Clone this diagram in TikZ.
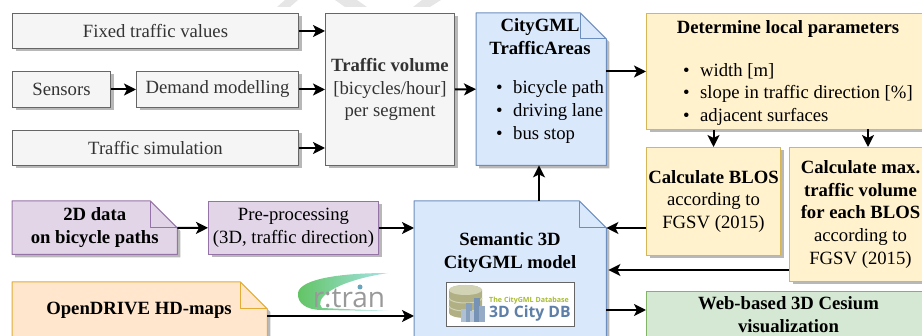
\documentclass[tikz,border=0pt]{standalone}
\usepackage{fontspec}
\setmainfont{Liberation Serif}
\newfontfamily\logofont{Open Sans}
\usepackage{tikz}
\usetikzlibrary{positioning,calc,backgrounds,shadows,arrows.meta}
\definecolor{grayfill}{HTML}{F5F5F5}
\definecolor{graydraw}{HTML}{666666}
\definecolor{graytext}{HTML}{333333}
\definecolor{bluefill}{HTML}{DAE8FC}
\definecolor{bluedraw}{HTML}{6C8EBF}
\definecolor{yellowfill}{HTML}{FFF2CC}
\definecolor{yellowdraw}{HTML}{D6B656}
\definecolor{purplefill}{HTML}{E1D5E7}
\definecolor{purpledraw}{HTML}{9673A6}
\definecolor{orangefill}{HTML}{FFE6CC}
\definecolor{orangedraw}{HTML}{E3AC35}
\definecolor{greenfill}{HTML}{D5E8D4}
\definecolor{greendraw}{HTML}{82B366}
\definecolor{marksgray}{HTML}{E6E6E6}
\definecolor{dbtan}{HTML}{B0B084}
\definecolor{dbtop}{HTML}{D2D3B4}
\definecolor{dbblue}{HTML}{5E80A8}
\definecolor{dbolive}{HTML}{A9BC2C}
\definecolor{logogreen}{HTML}{62C464}
\definecolor{logocyan}{HTML}{A6E4E8}
\tikzset{
    boxshadow/.style = {drop shadow={shadow xshift=3pt,shadow yshift=-3pt,fill=black,opacity=0.28}},
    box/.style = {rectangle,anchor=north west,align=center,inner sep=0,line width=1pt,boxshadow,
        font=\fontsize{18.7}{22.8}\selectfont},
    graybox/.style = {box,draw=graydraw,fill=grayfill,text=graytext},
    yellowbox/.style = {box,draw=yellowdraw,fill=yellowfill},
    greenbox/.style = {box,draw=greendraw,fill=greenfill},
    purplebox/.style = {box,draw=purpledraw,fill=purplefill},
    notearea/.style = {rectangle,anchor=north west,align=center,inner sep=0,
        font=\fontsize{18.7}{22.8}\selectfont},
    label/.style = {inner sep=0,align=center,font=\fontsize{18.7}{22.8}\selectfont},
    listlabel/.style = {label,align=left,anchor=west},
    conn/.style = {line width=2pt,-{Stealth[inset=3pt,length=12pt,width=12pt]}},
    flap/.style = {line width=1pt,line join=round}
}
\newcommand{\foldnote}[4]{%
    \begin{scope}[on background layer]
        \path[flap,fill=#3,draw=#4,boxshadow] (#1.north west) -- ($(#1.north east)+(-#2,0)$) -- ($(#1.north east)+(0,#2)$)
            -- (#1.south east) -- (#1.south west) -- cycle;
        \draw[flap,#4] ($(#1.north east)+(-#2,0)$) -- ($(#1.north east)+(-#2,#2)$) -- ($(#1.north east)+(0,#2)$);
    \end{scope}}
\newcommand{\bulletrow}[1]{\makebox[17pt][l]{\textbullet}#1}
\begin{document}
\begin{tikzpicture}[x=1pt,y=-1pt]
    \path[use as bounding box,clip] (0,0) rectangle (922,336);
    % marks at the top edge
    \foreach \xa/\xb/\xc/\xd in {285/298/290/277,335/357/367/345,422/441/430/413} {
        \fill[marksgray] (\xa,0) -- (\xb,0) -- (\xc,7) -- (\xd,7) -- cycle;
    }
    % sources of the traffic volume
    \node[graybox,minimum width=286pt,minimum height=35pt] (fixed) at (12,13) {Fixed traffic values};
    \node[graybox,minimum width=98pt,minimum height=36pt] (sensors) at (12,71) {Sensors};
    \node[graybox,minimum width=162pt,minimum height=36pt] (demand) at (136,71) {Demand modelling};
    \node[graybox,minimum width=286pt,minimum height=35pt] (sim) at (12,130) {Traffic simulation};
    \node[graybox,minimum width=129pt,minimum height=152pt] (volume) at (325,13) {\textbf{Traffic volume}\\{[bicycles/hour]}\\per segment};

    % traffic areas
    \node[notearea,minimum width=130pt,minimum height=152pt] (areas) at (476,13) {};
    \foldnote{areas}{26}{bluefill}{bluedraw}
    \node[label] (areastitle) at (540,37) {\textbf{CityGML}\\\textbf{TrafficAreas}};
    \node[listlabel] (areaslist) at (496,112) {\bulletrow{bicycle path}\\\bulletrow{driving lane}\\\bulletrow{bus stop}};

    % local parameters
    \node[yellowbox,minimum width=284pt,minimum height=116pt] (params) at (646,13) {};
    \node[label] (paramstitle) at (788,29) {\textbf{Determine local parameters}};
    \node[listlabel] (paramslist) at (683,94.5) {\bulletrow{width [m]}\\\bulletrow{slope in traffic direction [\%]}\\\bulletrow{adjacent surfaces}};
    \node[yellowbox,minimum width=134pt,minimum height=108pt] (blos) at (646,147) {\textbf{Calculate BLOS}\\according to\\FGSV (2015)};
    \node[yellowbox,minimum width=142pt,minimum height=134pt] (maxvol) at (789,147) {\textbf{Calculate max.}\\\textbf{traffic volume}\\\textbf{for each BLOS}\\according to\\FGSV (2015)};

    % inputs of the model
    \node[notearea,minimum width=165pt,minimum height=53pt] (data2d) at (12,201) {\textbf{2D data}\\\textbf{on bicycle paths}};
    \foldnote{data2d}{27}{purplefill}{purpledraw}
    \node[purplebox,minimum width=170pt,minimum height=53pt] (prep) at (208,201) {Pre-processing\\(3D, traffic direction)};
    \node[notearea,minimum width=255pt,minimum height=70pt] (odrive) at (12,282) {};
    \foldnote{odrive}{27}{orangefill}{orangedraw}
    \node[label] (odrivetext) at (139,310) {\textbf{OpenDRIVE HD-maps}};

    % r:tran logo
    \shade[left color=logogreen,right color=logocyan]
        (388,273) .. controls (340,273) and (300,279) .. (298,293) .. controls (297,303) and (306,310) .. (322,310)
        -- (388,311) -- (322,308) .. controls (314,300) and (330,282) .. (388,273) -- cycle;
    \node[inner sep=0,text=gray!80,font=\logofont\fontsize{28}{28}\selectfont] (rtran) at (349,298) {r:tran};
    \fill[cyan!45!gray] (360,287) circle (2.5);

    % model
    \node[notearea,minimum width=192pt,minimum height=150pt] (semantic) at (414,201) {};
    \foldnote{semantic}{27}{bluefill}{bluedraw}
    \node[label] (semantictext) at (510,252.5) {\textbf{Semantic 3D}\\\textbf{CityGML model}};

    % 3D City DB logo
    \node[rectangle,anchor=north west,draw=graydraw,line width=1pt,fill=white,minimum width=128pt,minimum height=44pt,inner sep=0] (dblogo) at (446,282) {};
    \fill[dbtan] (449,290) -- (449,313) arc[start angle=180,end angle=0,x radius=16.5,y radius=5] -- (482,290) arc[start angle=0,end angle=-180,x radius=16.5,y radius=5] -- cycle;
    \fill[dbtop] (465.5,290) ellipse[x radius=16.5,y radius=5];
    \foreach \ya in {298,306} {
        \draw[dbtop,line width=1pt] (449,\ya) arc[start angle=180,end angle=0,x radius=16.5,y radius=5];
    }
    \foreach \xa/\ya/\ca in {461/309/50,466/303/75,470/311/45,474/298/85,479/306/65} {
        \fill[dbblue!\ca!white] (\xa,\ya) rectangle ++(5.5,322-\ya);
    }
    \node[inner sep=0,anchor=west,text=dbolive,font=\logofont\bfseries\fontsize{7.1}{8}\selectfont] (dbtitle) at (489,300.5) {The CityGML Database};
    \node[inner sep=0,anchor=west,text=dbblue,font=\logofont\bfseries\fontsize{15.7}{16}\selectfont] (dbname) at (489,313) {3D City DB};

    \node[greenbox,minimum width=284pt,minimum height=46pt] (web) at (646,291) {\textbf{Web-based 3D Cesium}\\\textbf{visualization}};

    % ports that sit off the middle of a box
    \coordinate (odriveout) at (267,316);
    \coordinate (blosout) at (646,228);
    \coordinate (maxout) at (789,270);
    \coordinate (webin) at (646,310);
    \coordinate (semanticout) at (539,201);
    \coordinate (maxin) at (868,129);

    \draw[conn] (fixed.east) -- (fixed.east -| volume.west);
    \draw[conn] (sensors) -- (demand);
    \draw[conn] (demand.east) -- (demand.east -| volume.west);
    \draw[conn] (sim.east) -- (sim.east -| volume.west);
    \draw[conn] (volume.east) -- (areas.west);
    \draw[conn] (params.west -| areas.east) -- (params.west);
    \draw[conn] (blos.north |- params.south) -- (blos.north);
    \draw[conn] (maxin) -- (maxin |- maxvol.north);
    \draw[conn] (blosout) -- (blosout -| semantic.east);
    \draw[conn] (maxout) -- ($(maxout -| semantic.east)+(2,0)$);
    \draw[conn] (semanticout) -- (semanticout |- areas.south);
    \draw[conn] (data2d) -- (prep);
    \draw[conn] (prep.east) -- (prep.east -| semantic.west);
    \draw[conn] (odriveout) -- (odriveout -| semantic.west);
    \draw[conn] (webin -| semantic.east) -- (webin);
\end{tikzpicture}
\end{document}
